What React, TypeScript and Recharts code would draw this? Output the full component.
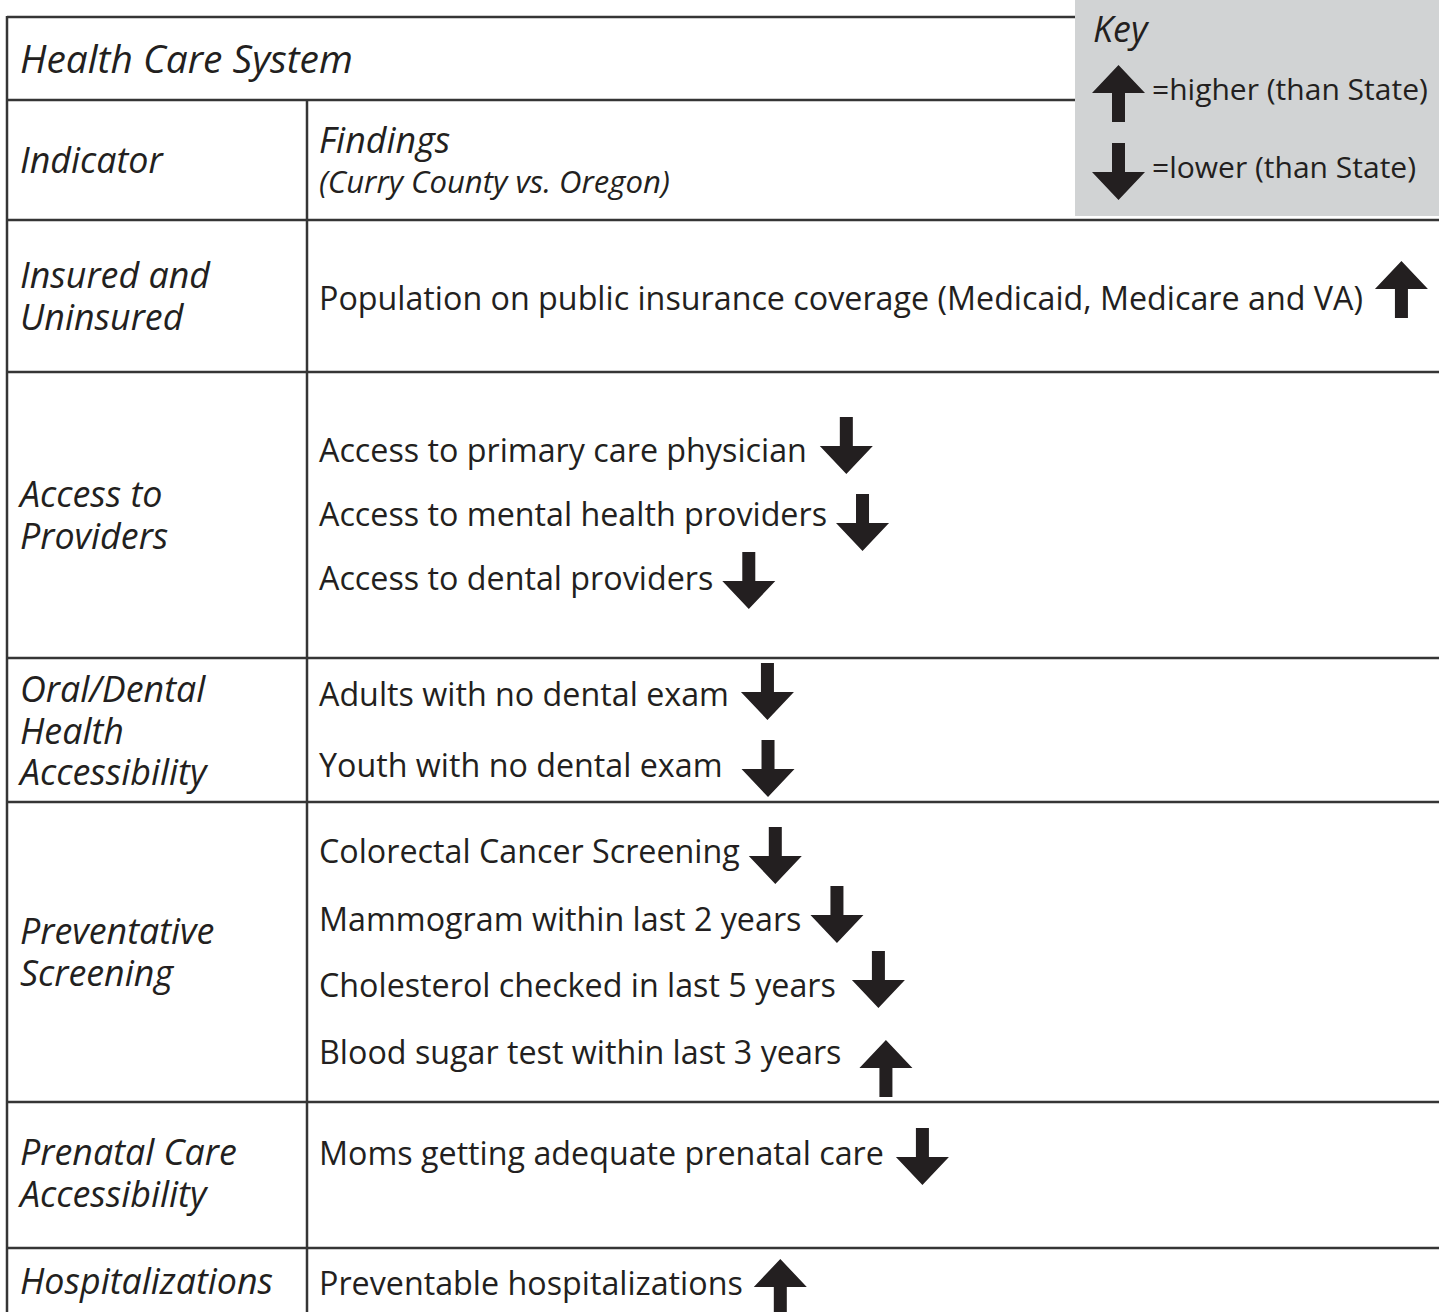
import React from "react";
import {
    ScatterChart,
    Scatter,
    XAxis,
    YAxis,
    ReferenceLine,
    ReferenceArea,
} from "recharts";

// ---- data ----
const indicators = [
    ["Insured and", "Uninsured"],
    ["Access to", "Providers"],
    ["Oral/Dental", "Health", "Accessibility"],
    ["Preventative", "Screening"],
    ["Prenatal Care", "Accessibility"],
    ["Hospitalizations"],
];

const findings = [
    ["Population on public insurance coverage (Medicaid, Medicare and VA)"],
    ["Access to primary care physician", "Access to mental health providers", "Access to dental providers"],
    ["Adults with no dental exam", "Youth with no dental exam"],
    [
        "Colorectal Cancer Screening",
        "Mammogram within last 2 years",
        "Cholesterol checked in last 5 years",
        "Blood sugar test within last 3 years",
    ],
    ["Moms getting adequate prenatal care"],
    ["Preventable hospitalizations"],
];

// "higher" / "lower" than State
const trends = [
    ["higher"],
    ["lower", "lower", "lower"],
    ["lower", "lower"],
    ["lower", "lower", "lower", "higher"],
    ["lower"],
    ["higher"],
];

const keyLabels = ["=higher (than State)", "=lower (than State)"];
const keyTrends = ["higher", "lower"];

// ---- layout (pixels) ----
const W = 1439;
const H = 1312;
const INK = "#231f20";
const RULE = "#353535";
const KEY_BG = "#d1d3d4";
const FONT = '"Open Sans", "Noto Sans", sans-serif';

const LEFT = 7;
const COL = 307;
const KEY_LEFT = 1075;
const KEY_BOTTOM = 216;
const rowRules = [220, 372, 658, 802, 1102, 1248];

const indicatorBase = [288, 507, 702, 944, 1165, 1294];
const findingBase = [[310], [462, 526, 590], [706, 777], [863, 931, 997, 1064], [1165], [1295]];
const arrowGap = [[12], [13, 9, 9], [12, 19], [9, 9, 16, 18], [12], [11]];
const arrowLift = [[-49], [-45, -32, -38], [-43, -37], [-36, -45, -46, -24], [-37], [-36]];

const ARROW_W = 53;
const ARROW_H = 57;
const HEAD = 28;
const SHAFT = 13;

// fit font sizes to the widths in the reference
const ctx = typeof document !== "undefined" ? document.createElement("canvas").getContext("2d") : null;
const measure = (text: string, size: number, italic = false) => {
    if (!ctx) return text.length * size * 0.5;
    ctx.font = `${italic ? "italic " : ""}${size}px ${FONT}`;
    return ctx.measureText(text).width;
};
const fit = (text: string, target: number, italic = false) => (100 * target) / measure(text, 100, italic);

const bodySize = fit(findings[0][0], 1044);
const indicatorSize = fit("Insured and", 190, true);
const titleSize = fit("Health Care System", 333, true);
const subSize = fit("(Curry County vs. Oregon)", 351, true);
const keySize = fit(keyLabels[0], 276);

const headers = [
    { x: 20, y: 73, label: "Health Care System", size: titleSize },
    { x: 20, y: 173, label: "Indicator", size: indicatorSize },
    { x: 319, y: 153, label: "Findings", size: indicatorSize },
    { x: 319, y: 193, label: "(Curry County vs. Oregon)", size: subSize },
    { x: 1093, y: 42, label: "Key", size: indicatorSize },
];

const indicatorData = indicators.map((lines, i) => ({ x: 20, y: indicatorBase[i], lines }));

const findingData = findings.flatMap((row, i) =>
    row.map((label, j) => ({
        x: 319,
        y: findingBase[i][j],
        label,
        trend: trends[i][j],
        gap: arrowGap[i][j],
        lift: arrowLift[i][j],
    }))
);

const keyData = keyLabels.map((label, i) => ({ x: 1092, y: [65, 143][i], label, trend: keyTrends[i] }));

const arrowPoints = (lx: number, ty: number, trend: string) => {
    const cx = lx + ARROW_W / 2;
    const s = SHAFT / 2;
    if (trend === "higher") {
        return [
            [cx, ty], [lx + ARROW_W, ty + HEAD], [cx + s, ty + HEAD], [cx + s, ty + ARROW_H],
            [cx - s, ty + ARROW_H], [cx - s, ty + HEAD], [lx, ty + HEAD],
        ];
    }
    const hb = ty + ARROW_H - HEAD;
    return [
        [cx - s, ty], [cx + s, ty], [cx + s, hb], [lx + ARROW_W, hb],
        [cx, ty + ARROW_H], [lx, hb], [cx - s, hb],
    ];
};

const Arrow = ({ x, y, trend }: { x: number; y: number; trend: string }) => (
    <polygon points={arrowPoints(x, y, trend).map((p) => p.join(",")).join(" ")} fill={INK} />
);

const HeaderShape = (props: any) => {
    const { cx, cy, payload } = props;
    return (
        <text x={cx} y={cy} fontFamily={FONT} fontStyle="italic" fontSize={payload.size} fill={INK}>
            {payload.label}
        </text>
    );
};

const IndicatorShape = (props: any) => {
    const { cx, cy, payload } = props;
    return (
        <text x={cx} y={cy} fontFamily={FONT} fontStyle="italic" fontSize={indicatorSize} fill={INK}>
            {payload.lines.map((line: string, i: number) => (
                <tspan key={i} x={cx} y={cy + i * 41.5}>
                    {line}
                </tspan>
            ))}
        </text>
    );
};

const FindingShape = (props: any) => {
    const { cx, cy, payload } = props;
    const end = cx + measure(payload.label, bodySize);
    return (
        <g>
            <text x={cx} y={cy} fontFamily={FONT} fontSize={bodySize} fill={INK}>
                {payload.label}
            </text>
            <Arrow x={end + payload.gap} y={cy + payload.lift} trend={payload.trend} />
        </g>
    );
};

const KeyShape = (props: any) => {
    const { cx, cy, payload } = props;
    return (
        <g>
            <Arrow x={cx} y={cy} trend={payload.trend} />
            <text x={cx + 60} y={cy + 35} fontFamily={FONT} fontSize={keySize} fill={INK}>
                {payload.label}
            </text>
        </g>
    );
};

const App: React.FC = () => {
    return (
        <div style={{ position: "absolute", left: 0, top: 0, width: W, height: H, background: "#fff" }}>
            <ScatterChart width={W} height={H} margin={{ top: 0, right: 0, bottom: 0, left: 0 }}>
                <XAxis type="number" dataKey="x" domain={[0, W]} hide />
                <YAxis type="number" dataKey="y" domain={[0, H]} reversed hide width={0} />

                <ReferenceArea x1={KEY_LEFT} x2={W} y1={0} y2={KEY_BOTTOM} fill={KEY_BG} fillOpacity={1} stroke="none" />

                <ReferenceLine segment={[{ x: LEFT, y: 17 }, { x: KEY_LEFT, y: 17 }]} stroke={RULE} strokeWidth={2.5} />
                <ReferenceLine segment={[{ x: LEFT, y: 100 }, { x: KEY_LEFT, y: 100 }]} stroke={RULE} strokeWidth={2.5} />
                {rowRules.map((y) => (
                    <ReferenceLine key={y} segment={[{ x: LEFT, y }, { x: W, y }]} stroke={RULE} strokeWidth={2.5} />
                ))}
                <ReferenceLine segment={[{ x: LEFT, y: 16 }, { x: LEFT, y: H }]} stroke={RULE} strokeWidth={2.5} />
                <ReferenceLine segment={[{ x: COL, y: 100 }, { x: COL, y: H }]} stroke={RULE} strokeWidth={2.5} />

                <Scatter data={headers} shape={HeaderShape} isAnimationActive={false} />
                <Scatter data={indicatorData} shape={IndicatorShape} isAnimationActive={false} />
                <Scatter data={findingData} shape={FindingShape} isAnimationActive={false} />
                <Scatter data={keyData} shape={KeyShape} isAnimationActive={false} />
            </ScatterChart>
        </div>
    );
};

export default App;
